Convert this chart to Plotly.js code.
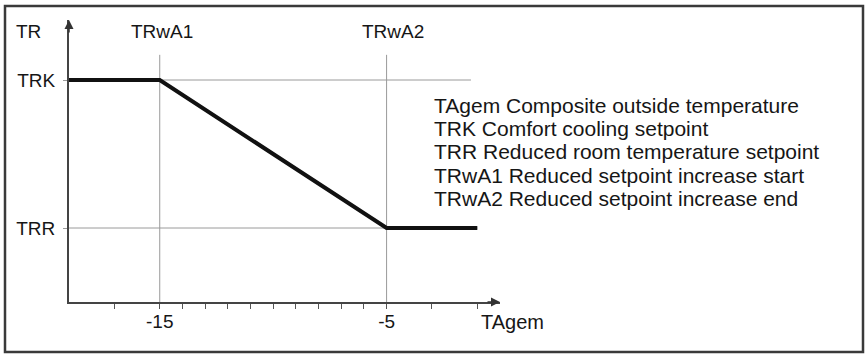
<!DOCTYPE html>
<html>
<head>
<meta charset="utf-8">
<script src="https://cdn.plot.ly/plotly-3.0.1.min.js"></script>
<style>
  html, body { margin: 0; padding: 0; background: #fff; }
  #chart { width: 865px; height: 354px; }
</style>
</head>
<body>
<div id="chart"></div>
<script>
// Setpoint curve: comfort level up to TRwA1, falling to the reduced level at TRwA2
const curveX = [-19, -15, -5, -1];
const curveY = [3, 3, 1, 1];

const levelTRK = 3;
const levelTRR = 1;
const pointTRwA1 = -15;
const pointTRwA2 = -5;

const xTickVals = [-17, -15, -14, -13, -12, -11, -10, -9, -8, -7, -6, -5, -3, -1];
const xTickText = ['', '-15', '', '', '', '', '', '', '', '', '', '-5', '', ''];
const yTickVals = [levelTRR, levelTRK];
const yTickText = ['TRR', 'TRK'];

const legendLines = [
  'TAgem Composite outside temperature',
  'TRK Comfort cooling setpoint',
  'TRR Reduced room temperature setpoint',
  'TRwA1 Reduced setpoint increase start',
  'TRwA2 Reduced setpoint increase end'
];

// plot area in pixels
const L = 69, R = 500, T = 20, B = 302;
const W = 865, H = 354;
const xp = px => (px - L) / (R - L);
const yp = py => (B - py) / (B - T);

const textColor = '#161616';
const fontFam = 'Arial';
const thin = '#9a9a9a';

const shapes = [
  // outer frame
  { type: 'rect', xref: 'paper', yref: 'paper',
    x0: xp(5), x1: xp(863), y0: yp(352), y1: yp(6),
    line: { color: '#3a3a3a', width: 2.5 } },
  // reference lines
  { type: 'line', xref: 'x', yref: 'y', layer: 'below',
    x0: -19, x1: -1.28, y0: levelTRK, y1: levelTRK, line: { color: thin, width: 1 } },
  { type: 'line', xref: 'x', yref: 'y', layer: 'below',
    x0: -19, x1: -1, y0: levelTRR, y1: levelTRR, line: { color: thin, width: 1 } },
  { type: 'line', xref: 'x', yref: 'y', layer: 'below',
    x0: pointTRwA1, x1: pointTRwA1, y0: 0, y1: 3.34, line: { color: thin, width: 1 } },
  { type: 'line', xref: 'x', yref: 'y', layer: 'below',
    x0: pointTRwA2, x1: pointTRwA2, y0: 0, y1: 3.34, line: { color: thin, width: 1 } }
];

const txt = (s, x, y, anchor, size) => ({
  text: s, xref: 'paper', yref: 'paper', x: xp(x), y: yp(y),
  xanchor: anchor, yanchor: 'middle', showarrow: false,
  font: { family: fontFam, size: size, color: textColor }
});

const annotations = [
  txt('TR', 14, 32, 'left', 19),
  txt('TRwA1', 162, 32, 'center', 19),
  txt('TRwA2', 393, 32, 'center', 19),
  txt('TAgem', 479, 322, 'left', 20),
  // axis arrowheads
  { xref: 'paper', yref: 'paper', x: 0, y: 1, ax: 0, ay: 14, text: '',
    showarrow: true, arrowhead: 2, arrowsize: 1.2, arrowwidth: 1.5, arrowcolor: '#333', standoff: 0 },
  { xref: 'paper', yref: 'paper', x: 1, y: 0, ax: -14, ay: 0, text: '',
    showarrow: true, arrowhead: 2, arrowsize: 1.2, arrowwidth: 1.5, arrowcolor: '#333', standoff: 0 }
];

const legendY = [105, 128.3, 151.7, 175, 198.3];
legendLines.forEach((s, i) => annotations.push(txt(s, 432, legendY[i], 'left', 21)));

const trace = {
  x: curveX, y: curveY, type: 'scatter', mode: 'lines',
  line: { color: '#111', width: 4 }, hoverinfo: 'skip', cliponaxis: false
};

const layout = {
  width: W, height: H,
  margin: { l: L, r: W - R, t: T, b: H - B, pad: 0 },
  paper_bgcolor: '#fff', plot_bgcolor: '#fff',
  showlegend: false,
  font: { family: fontFam, color: textColor },
  xaxis: {
    range: [-19, 0], showgrid: false, zeroline: false,
    showline: true, linecolor: '#444', linewidth: 2,
    ticks: 'outside', ticklen: 5, tickwidth: 1, tickcolor: '#555',
    tickvals: xTickVals, ticktext: xTickText,
    tickfont: { family: fontFam, size: 19, color: textColor },
    ticklabelstandoff: -4, fixedrange: true
  },
  yaxis: {
    range: [0, (B - T) / 74], showgrid: false, zeroline: false,
    showline: true, linecolor: '#444', linewidth: 2,
    ticks: 'outside', ticklen: 4, tickwidth: 1, tickcolor: thin,
    tickvals: yTickVals, ticktext: yTickText,
    tickfont: { family: fontFam, size: 19, color: textColor },
    ticklabelstandoff: 4, fixedrange: true
  },
  shapes: shapes,
  annotations: annotations
};

Plotly.newPlot('chart', [trace], layout, { staticPlot: true, displayModeBar: false });
</script>
</body>
</html>
